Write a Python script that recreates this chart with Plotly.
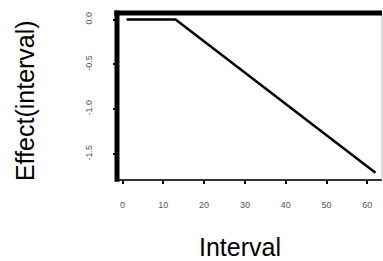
import plotly.graph_objects as go

interval = [1, 13, 62]
effect = [0.0, 0.0, -1.71]
x_ticks = [0, 10, 20, 30, 40, 50, 60]
y_ticks = [0.0, -0.5, -1.0, -1.5]
y_tick_labels = ["0.0", "-0.5", "-1.0", "-1.5"]

fig = go.Figure()
fig.add_trace(go.Scatter(x=interval, y=effect, mode="lines",
                         line=dict(color="black", width=2.5), showlegend=False))

tick_font = dict(family="Liberation Sans, Arial", size=9, color="#555555")
title_font = dict(family="Liberation Sans, Arial", size=25, color="black")
fig.update_layout(
    width=383, height=261,
    margin=dict(l=117, r=1, t=13, b=81, autoexpand=False),
    paper_bgcolor="white", plot_bgcolor="white",
    xaxis=dict(range=[-1.35, 63.6], tickvals=x_ticks, ticktext=[str(v) for v in x_ticks],
               showgrid=False, zeroline=False, ticks="outside", ticklen=3, tickwidth=1.5,
               tickcolor="black", tickfont=tick_font, ticklabelstandoff=13, automargin=False),
    yaxis=dict(range=[-1.79, 0.073], tickvals=y_ticks, ticktext=y_tick_labels,
               showgrid=False, zeroline=False, ticks="outside", ticklen=3, tickwidth=1.5,
               tickcolor="black", tickfont=tick_font, tickangle=-90, ticklabelstandoff=17,
               automargin=False),
    annotations=[
        dict(text="Interval", xref="paper", yref="paper", x=0.464, y=-0.40, yanchor="middle",
             xanchor="center", showarrow=False, font=title_font),
        dict(text="Effect(interval)", xref="paper", yref="paper", x=-0.347, y=0.473,
             xanchor="center", yanchor="middle", textangle=-90, showarrow=False, font=title_font),
    ],
    shapes=[
        dict(type="line", xref="paper", yref="paper", x0=0, x1=1, y0=0, y1=0, line=dict(color="#333333", width=2)),
        dict(type="line", xref="paper", yref="paper", x0=1, x1=1, y0=0, y1=1, line=dict(color="#bbbbbb", width=1)),
        dict(type="line", xref="paper", yref="paper", x0=0, x1=0, y0=-0.01, y1=1.015, line=dict(color="black", width=5)),
        dict(type="line", xref="paper", yref="paper", x0=-0.01, x1=1, y0=1, y1=1, line=dict(color="black", width=5)),
    ],
)
fig.write_html("out.html", config={"displayModeBar": False},
               post_script="document.body.style.margin='0';document.body.style.overflow='hidden';")
